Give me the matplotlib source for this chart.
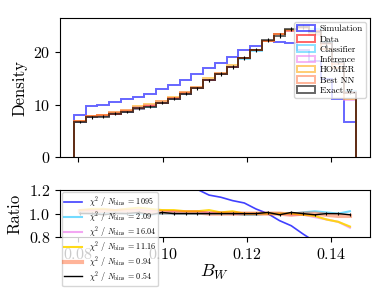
import matplotlib
matplotlib.use("Agg")
import matplotlib.pyplot as plt
import numpy as np

plt.rcParams["font.family"] = "serif"
plt.rcParams["font.serif"] = ["cmr10", "DejaVu Serif"]
plt.rcParams["mathtext.fontset"] = "cm"
plt.rcParams["axes.formatter.use_mathtext"] = True

# 24 bins in B_W
edges = np.linspace(0.079, 0.1458, 25)

# densities
data_h = [6.7, 7.6, 7.8, 8.3, 8.6, 9.2, 9.7, 10.3, 11.1, 12.1, 13.1, 14.6,
          15.8, 17.2, 18.8, 20.4, 22.1, 23.4, 24.2, 24.8, 24.0, 21.7, 18.2, 12.4]
sim_h = [8.1, 9.7, 10.0, 10.5, 11.0, 11.5, 12.1, 12.9, 13.7, 14.6, 15.8, 16.9,
         18.0, 19.1, 20.5, 21.2, 22.1, 22.0, 21.7, 20.5, 18.3, 14.8, 11.0, 6.6]

# ratios to data
clf_r = [1.01, 1.00, 1.00, 1.01, 1.00, 1.00, 0.99, 1.00, 1.00, 1.00, 1.00, 1.00,
         1.00, 1.00, 0.99, 0.99, 1.00, 1.00, 1.00, 1.01, 1.02, 1.01, 1.00, 1.02]
inf_r = [1.03, 1.03, 1.04, 1.03, 1.04, 1.04, 1.03, 1.03, 1.02, 1.02, 1.02, 1.01,
         1.01, 1.00, 1.00, 1.00, 1.00, 1.00, 0.99, 0.99, 0.97, 0.95, 0.93, 0.88]
homer_r = [1.03, 1.04, 1.04, 1.03, 1.04, 1.05, 1.04, 1.03, 1.03, 1.02, 1.02, 1.03,
           1.01, 1.02, 1.00, 1.00, 1.00, 1.00, 1.00, 0.99, 0.98, 0.95, 0.93, 0.89]
nn_r = [1.02, 1.02, 1.02, 1.02, 1.02, 1.02, 1.01, 1.01, 1.01, 1.01, 1.01, 1.00,
        1.00, 1.00, 1.00, 1.00, 1.00, 1.00, 0.99, 1.00, 1.00, 0.99, 0.98, 0.98]
exact_r = [1.00, 1.00, 0.99, 1.00, 1.00, 1.01, 0.99, 1.01, 1.00, 1.00, 1.00, 1.00,
           1.00, 1.00, 1.00, 1.00, 1.01, 0.99, 1.01, 1.00, 0.99, 1.00, 1.00, 0.99]
exact_err = [0.25, 0.26, 0.26, 0.27, 0.27, 0.28, 0.28, 0.29, 0.30, 0.31, 0.32, 0.34,
             0.35, 0.36, 0.38, 0.39, 0.41, 0.42, 0.43, 0.43, 0.43, 0.41, 0.37, 0.31]
exact_rerr = [0.015, 0.014, 0.014, 0.014, 0.013, 0.013, 0.013, 0.012, 0.012, 0.012,
              0.011, 0.011, 0.011, 0.010, 0.010, 0.010, 0.010, 0.010, 0.010, 0.010,
              0.010, 0.010, 0.011, 0.012]

hist_labels = ["Simulation", "Data", "Classifier", "Inference", "HOMER", "Best NN", "Exact w."]
chi2 = ["1095", "2.09", "16.04", "11.16", "0.94", "0.54"]

centers = 0.5 * (edges[1:] + edges[:-1])
data = np.array(data_h)
sim = np.array(sim_h)

fig = plt.figure(figsize=(3.89, 2.92), dpi=100)
ax1 = fig.add_axes([0.154, 0.462, 0.797, 0.476])
ax2 = fig.add_axes([0.154, 0.188, 0.797, 0.161], sharex=ax1)

series = [
    (sim, "blue", 0.6),
    (data, "red", 0.6),
    (data * np.array(clf_r), "deepskyblue", 0.45),
    (data * np.array(inf_r), "violet", 0.6),
    (data * np.array(homer_r), "orange", 0.55),
    (data * np.array(nn_r), "orangered", 0.4),
    (data * np.array(exact_r), "black", 0.6),
]
for (h, c, a), lab in zip(series, hist_labels):
    ax1.hist(centers, bins=edges, weights=h, histtype="step", color=c,
             alpha=a, lw=1.4, label=lab)
ax1.errorbar(centers, data * np.array(exact_r), yerr=exact_err, fmt="none",
             ecolor="black", elinewidth=0.8)
ax1.set_ylabel("Density", fontsize=12)
ax1.tick_params(labelbottom=False, labelsize=11.5)
ax1.set_yticks([0, 10, 20])
ax1.legend(loc="upper right", fontsize=6.6, borderaxespad=0.4,
           labelspacing=0.2, borderpad=0.35, handletextpad=0.5)

ratios = [
    (sim / data, "blue", 0.75, 1.2),
    (np.array(clf_r), "deepskyblue", 0.55, 1.5),
    (np.array(inf_r), "violet", 0.7, 1.5),
    (np.array(homer_r), "gold", 0.9, 1.5),
    (np.array(nn_r), "orangered", 0.4, 3.0),
    (np.array(exact_r), "black", 1.0, 1.0),
]
for (r, c, a, lw), chi in zip(ratios, chi2):
    ax2.plot(centers, r, color=c, alpha=a, lw=lw,
             label=r"$\chi^2$ / $N_{\rm bins}$ = " + chi)
ax2.errorbar(centers, exact_r, yerr=exact_rerr, fmt="none", ecolor="black",
             elinewidth=0.8)
ax2.set_ylim(0.8, 1.2)
ax2.set_yticks([0.8, 1.0, 1.2])
ax2.set_xticks([0.08, 0.10, 0.12, 0.14])
ax2.tick_params(labelsize=11.5)
ax2.set_ylabel("Ratio", fontsize=12)
ax2.set_xlabel("$B_W$", fontsize=13, labelpad=1)
ax2.legend(loc="upper left", fontsize=5.8, borderaxespad=0.25,
           labelspacing=0.0, borderpad=0.3, handletextpad=0.8,
           handleheight=0.5, handlelength=2.2)

fig.savefig("out.png", dpi=100, facecolor="white")
